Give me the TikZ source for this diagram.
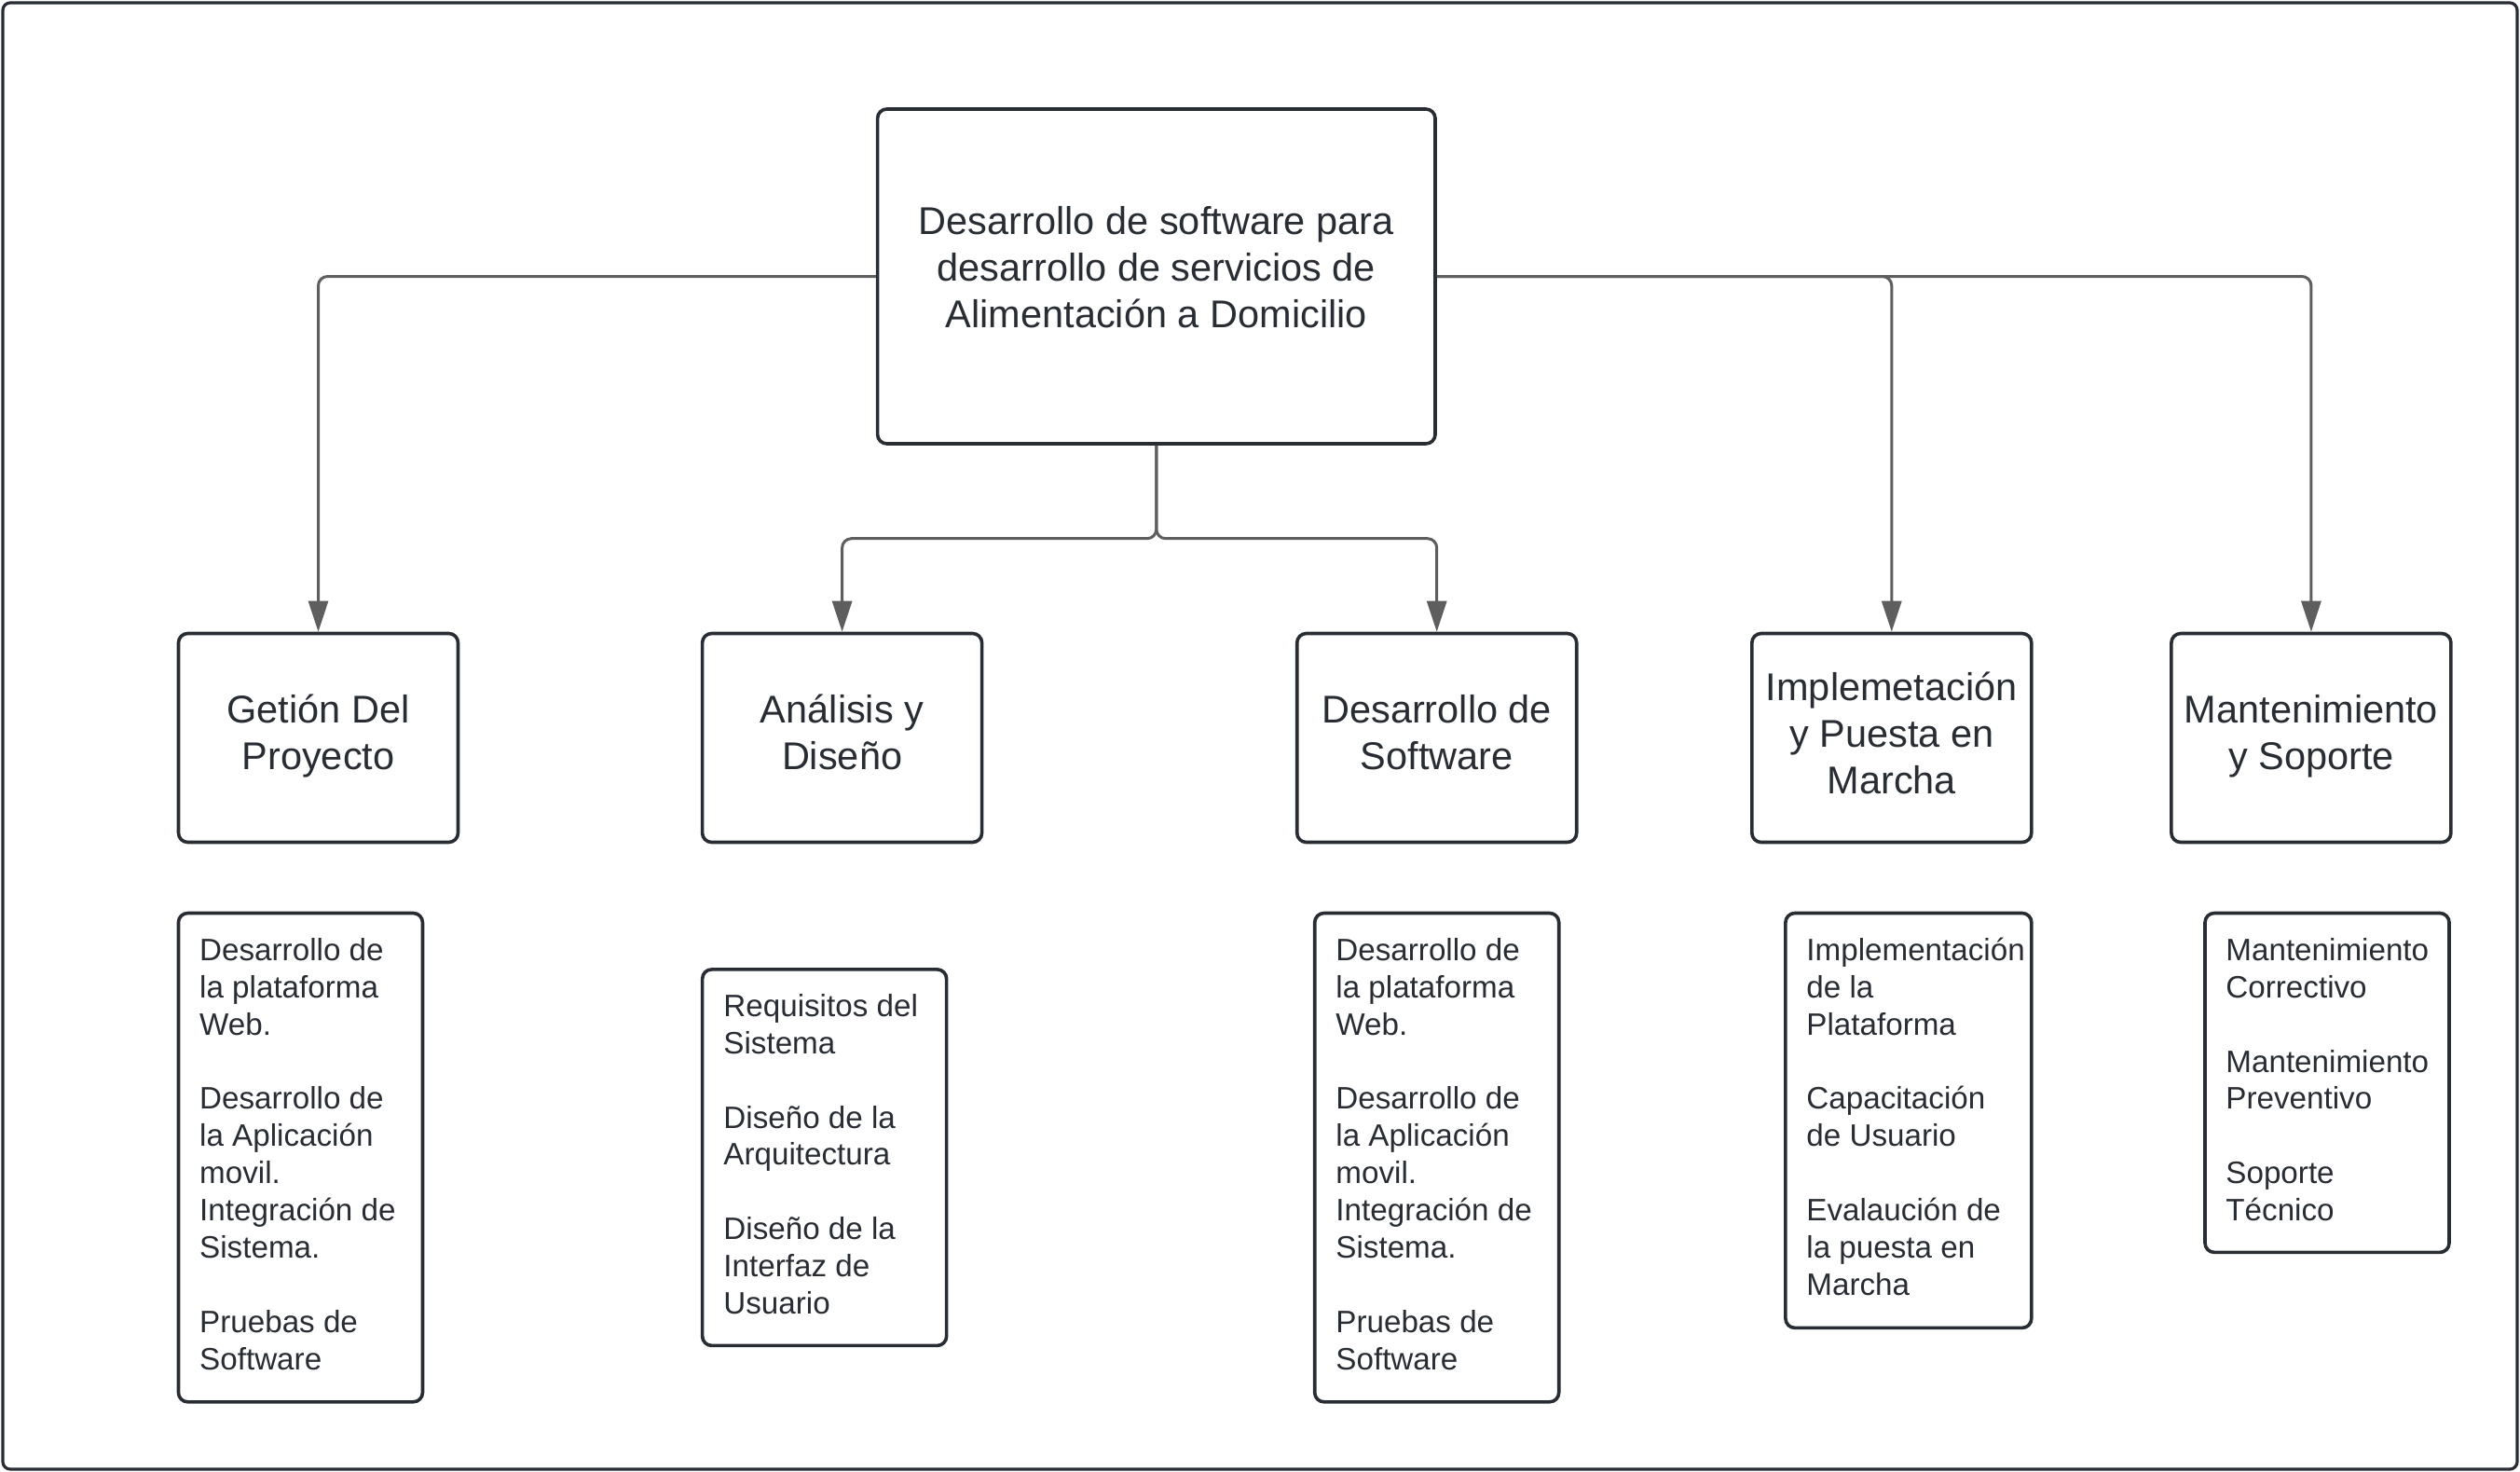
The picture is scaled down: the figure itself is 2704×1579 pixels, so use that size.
\documentclass[tikz,border=0pt]{standalone}
\usepackage{fontspec}
\setmainfont{Liberation Sans}
\usetikzlibrary{arrows.meta}
\definecolor{boxc}{HTML}{282C33}
\definecolor{linec}{HTML}{5E5E5E}
\definecolor{txtc}{HTML}{282C33}
\begin{document}
\begin{tikzpicture}[x=0.5pt,y=-0.5pt,
  frame/.style={draw=boxc, line width=1.6pt, rounded corners=4pt},
  mbox/.style={draw=boxc, line width=1.8pt, rounded corners=5pt, inner sep=0pt, fill=white},
  bigtext/.style={text=txtc, inner sep=0pt, align=center, font=\fontsize{20.75}{25}\selectfont},
  listtext/.style={text=txtc, inner sep=0pt, align=left, anchor=north west, font=\fontsize{16.6}{19.95}\selectfont},
  conn/.style={draw=linec, line width=1.5pt, rounded corners=5pt, -{Triangle[width=10.5pt,length=16.5pt]}}
]
\useasboundingbox (0,0) rectangle (2704,1579);
\draw[frame] (3,3) rectangle (2701,1576);

% root
\node[mbox, minimum width=299.2pt, minimum height=179.5pt] (root) at (1240.8,296.5) {};
\node[bigtext, anchor=north] (roottxt) at (1240.8,216) {\strut Desarrollo de software para\\desarrollo de servicios de\\Alimentación a Domicilio};

% level 1
\node[mbox, minimum width=150pt, minimum height=112pt] (g) at (341.5,791.5) {};
\node[mbox, minimum width=150pt, minimum height=112pt] (a) at (903.6,791.5) {};
\node[mbox, minimum width=150pt, minimum height=112pt] (d) at (1541.7,791.5) {};
\node[mbox, minimum width=150pt, minimum height=112pt] (i) at (2029.8,791.5) {};
\node[mbox, minimum width=150pt, minimum height=112pt] (m) at (2479.9,791.5) {};

\node[bigtext, anchor=north] (gt) at (341.5,740.5) {\strut Getión Del\\Proyecto};
\node[bigtext, anchor=north] (at) at (903.6,740.5) {\strut Análisis y\\Diseño};
\node[bigtext, anchor=north] (dt) at (1541.7,740.5) {\strut Desarrollo de\\Software};
\node[bigtext, anchor=north] (it) at (2029.8,716) {\strut Implemetación\\y Puesta en\\Marcha};
\node[bigtext, anchor=north] (mt) at (2479.9,740.5) {\strut Mantenimiento\\y Soporte};

% level 2 boxes
\node[mbox, minimum width=131pt, minimum height=262.15pt] (gl) at (322.45,1241.65) {};
\node[mbox, minimum width=131pt, minimum height=201.75pt] (al) at (884.65,1241.65) {};
\node[mbox, minimum width=131pt, minimum height=262.15pt] (dl) at (1541.7,1241.65) {};
\node[mbox, minimum width=131.95pt, minimum height=222.45pt] (il) at (2047.85,1201.95) {};
\node[mbox, minimum width=131pt, minimum height=181.95pt] (ml) at (2497,1161.45) {};

\node[listtext] (glt) at (213.8,1002) {\strut Desarrollo de\\la plataforma\\Web.\\[19.95pt]Desarrollo de\\la Aplicación\\movil.\\Integración de\\Sistema.\\[19.95pt]Pruebas de\\Software};
\node[listtext] (alt) at (776,1062) {\strut Requisitos del\\Sistema\\[19.95pt]Diseño de la\\Arquitectura\\[19.95pt]Diseño de la\\Interfaz de\\Usuario};
\node[listtext] (dlt) at (1433,1002) {\strut Desarrollo de\\la plataforma\\Web.\\[19.95pt]Desarrollo de\\la Aplicación\\movil.\\Integración de\\Sistema.\\[19.95pt]Pruebas de\\Software};
\node[listtext] (ilt) at (1938,1002) {\strut Implementación\\de la\\Plataforma\\[19.95pt]Capacitación\\de Usuario\\[19.95pt]Evalaución de\\la puesta en\\Marcha};
\node[listtext] (mlt) at (2388,1002) {\strut Mantenimiento\\Correctivo\\[19.95pt]Mantenimiento\\Preventivo\\[19.95pt]Soporte\\Técnico};

% connectors
\coordinate (fork) at (1240.8,577.7);
\draw[conn] (root.west) -| (g.north);
\draw[conn] (root.east) -| (i.north);
\draw[conn] (root.east) -| (m.north);
\draw[conn] (root.south) -- (fork) -| (a.north);
\draw[conn] (root.south) -- (fork) -| (d.north);
\end{tikzpicture}
\end{document}
